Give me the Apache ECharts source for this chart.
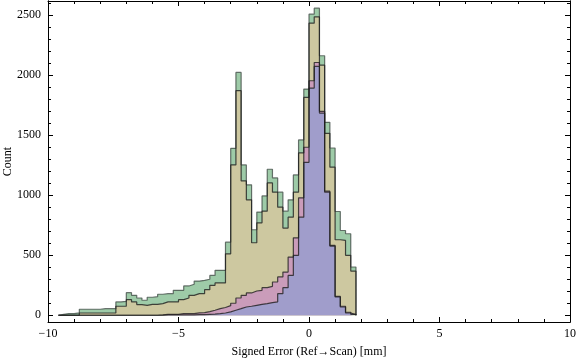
<!DOCTYPE html>
<html>
<head>
<meta charset="utf-8">
<script src="https://cdn.jsdelivr.net/npm/echarts@6/dist/echarts.min.js"></script>
<style>html,body{margin:0;padding:0;background:#fff}#chart{width:576px;height:362px}</style>
</head>
<body>
<div id="chart"></div>
<script>
// Histogram bins: left edge of first bin and bin width (mm)
const binStart = -9.6;
const binWidth = 0.2;

// Top of each stacked layer per bin (counts)
const greenTop = [8,14,14,20,50,50,50,50,55,55,55,111,116,188,166,144,125,150,155,175,180,180,208,208,244,258,285,291,300,332,374,374,609,1390,2022,1252,1086,712,859,994,1216,1144,1025,867,961,1169,1460,1884,2507,2557,2161,1607,1393,864,706,679,402];
const khakiTop = [0,0,0,0,19,19,19,19,19,19,19,75,75,130,111,89,83,91,91,97,111,111,111,130,144,166,180,180,213,249,269,269,512,1252,1870,1119,961,604,770,867,1102,1025,900,726,817,1025,1352,1814,2432,2485,2083,1515,1233,629,623,499,368];
const pinkTop  = [0,0,0,0,0,0,0,0,0,0,0,0,0,0,0,0,0,0,0,3,8,8,8,14,14,14,20,22,30,42,55,65,80,100,144,166,186,202,208,230,241,277,319,360,485,645,978,1399,1953,2105,1698,1033,582,158,75,25,8];
const blueTop  = [0,0,0,0,0,0,0,0,0,0,0,0,0,0,0,0,0,0,0,0,3,3,3,3,3,3,5,5,8,10,14,19,28,42,55,69,75,83,91,97,105,111,180,230,332,499,817,1274,1892,2072,1684,1025,576,152,69,19,5];

const xTicks = [-10,-5,0,5,10];
const yMajor = [0,500,1000,1500,2000,2500];
const yMinor = [100,200,300,400,600,700,800,900,1100,1200,1300,1400,1600,1700,1800,1900,2100,2200,2300,2400,2600];

const layers = [
  {name:'g', vals:greenTop, color:'#9ecba8', line:'rgba(50,60,55,0.7)'},
  {name:'k', vals:khakiTop, color:'#cdc8a0', line:'rgba(30,30,30,0.8)'},
  {name:'p', vals:pinkTop,  color:'#ca9cba', line:'rgba(30,30,30,0.8)'},
  {name:'b', vals:blueTop,  color:'#a09dcb', line:'rgba(30,30,30,0.8)'}
];

function r(v){return Math.round(v*1000)/1000;}
function stepData(vals){
  const d=[[binStart,0]];
  vals.forEach((v,i)=>d.push([r(binStart+i*binWidth),v]));
  const end=r(binStart+vals.length*binWidth);
  d.push([end,vals[vals.length-1]]);
  d.push([end,0]);
  return d;
}

const font = 'Liberation Serif';
const black = '#000';
const chart = echarts.init(document.getElementById('chart'), null, {renderer:'canvas'});

const baseX = {
  type:'value', min:-10, max:10, interval:5,
  splitLine:{show:false},
  axisLine:{show:true, onZero:false, lineStyle:{color:black, width:1}},
  axisTick:{show:true, inside:true, length:5, lineStyle:{color:black}},
  minorTick:{show:true, splitNumber:5, length:3, lineStyle:{color:black}}
};
const yMin = -56, yMax = 2617;
function yAx(pos, vals, len, labels){
  return {
    type:'value', position:pos, min:yMin, max:yMax,
    splitLine:{show:false},
    axisLine:{show:true, onZero:false, lineStyle:{color:black, width:1}},
    axisTick:{show:true, inside:true, length:len, customValues:vals, lineStyle:{color:black}},
    axisLabel: labels ? {show:true, customValues:vals, fontFamily:font, fontSize:12, color:black, margin:7,
      formatter:v=>String(v)} : {show:false}
  };
}

chart.setOption({
  animation:false,
  grid:{left:48, right:6, top:1, bottom:40, containLabel:false, outerBoundsMode:'none'},
  xAxis:[
    Object.assign({}, baseX, {position:'bottom',
      axisLabel:{show:true, fontFamily:font, fontSize:12, color:black, margin:6,
        formatter:v=>String(v).replace('-','\u2212')},
      name:'Signed Error (Ref\u2192Scan) [mm]', nameLocation:'middle', nameGap:24, nameMoveOverlap:false,
      nameTextStyle:{fontFamily:font, fontSize:12, color:black}}),
    Object.assign({}, baseX, {position:'top', axisLabel:{show:false}})
  ],
  yAxis:[
    Object.assign(yAx('left', yMajor, 5, true), {name:'Count', nameLocation:'middle', nameGap:34, nameRotate:90,
      nameMoveOverlap:false,
      nameTextStyle:{fontFamily:font, fontSize:12, color:black}}),
    yAx('left', yMinor, 3, false),
    yAx('right', yMajor, 5, false),
    yAx('right', yMinor, 3, false)
  ],
  series: layers.map(l=>({
    type:'line', xAxisIndex:0, yAxisIndex:0, step:'end',
    data:stepData(l.vals), showSymbol:false, symbol:'none',
    lineStyle:{color:l.line, width:1.2},
    areaStyle:{color:l.color, opacity:1, origin:'auto'},
    silent:true
  }))
});
</script>
</body>
</html>
